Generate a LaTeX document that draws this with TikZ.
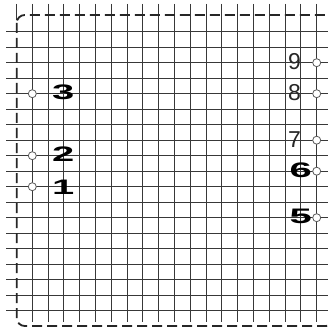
\documentclass[tikz,border=0pt]{standalone}
\usepackage{fontspec}
\setmainfont{Liberation Sans}
\usepackage{graphicx}
\begin{document}
\begin{tikzpicture}[x=1pt,y=-1pt,
  gridline/.style={line width=1.1pt, draw=black!78},
  border/.style={line width=1.8pt, draw=black!85, dash pattern=on 10pt off 5pt, rounded corners=8pt},
  hole/.style={circle, draw=black!65, line width=0.8pt, fill=white, minimum size=8pt, inner sep=0pt},
  reglabel/.style={font=\fontsize{23}{23}\selectfont, inner sep=0pt, text=black!85},
  boldlabel/.style={font=\fontsize{21}{21}\selectfont\bfseries, inner sep=0pt, text=black}]
\useasboundingbox (0,0) rectangle (328,331);
\fill[white] (0,0) rectangle (328,331);
% grid
\foreach \k in {0,...,18} \draw[gridline] (6, 31.7+15.5*\k) -- (328, 31.7+15.5*\k);
\foreach \j in {0,...,18} \draw[gridline] (32.3+15.8*\j, 4) -- (32.3+15.8*\j, 322);
\draw[gridline] (16.7,4) -- (16.7,20);
% border
\draw[border] (16.7,15) rectangle (334,326);
% holes
\node[hole] (c3) at (32.3, 93.7) {};
\node[hole] (c2) at (32.3, 155.7) {};
\node[hole] (c1) at (32.3, 186.7) {};
\node[hole] (c9) at (316.7, 62.7) {};
\node[hole] (c8) at (316.7, 93.7) {};
\node[hole] (c7) at (316.7, 140.2) {};
\node[hole] (c6) at (316.7, 171.2) {};
\node[hole] (c5) at (316.7, 217.7) {};
% labels
\node[boldlabel, anchor=west] (l3) at (52, 92.5) {\scalebox{1.9}[1]{3}};
\node[boldlabel, anchor=west] (l2) at (52, 154) {\scalebox{1.9}[1]{2}};
\node[boldlabel, anchor=west] (l1) at (52, 187) {\scalebox{1.9}[1]{1}};
\node[boldlabel, anchor=east] (l6) at (312, 170) {\scalebox{1.9}[1]{6}};
\node[boldlabel, anchor=east] (l5) at (312, 216) {\scalebox{1.9}[1]{5}};
\node[reglabel, anchor=east] (l9) at (301, 62) {9};
\node[reglabel, anchor=east] (l8) at (301, 93) {8};
\node[reglabel, anchor=east] (l7) at (301, 140) {7};
\end{tikzpicture}
\end{document}
